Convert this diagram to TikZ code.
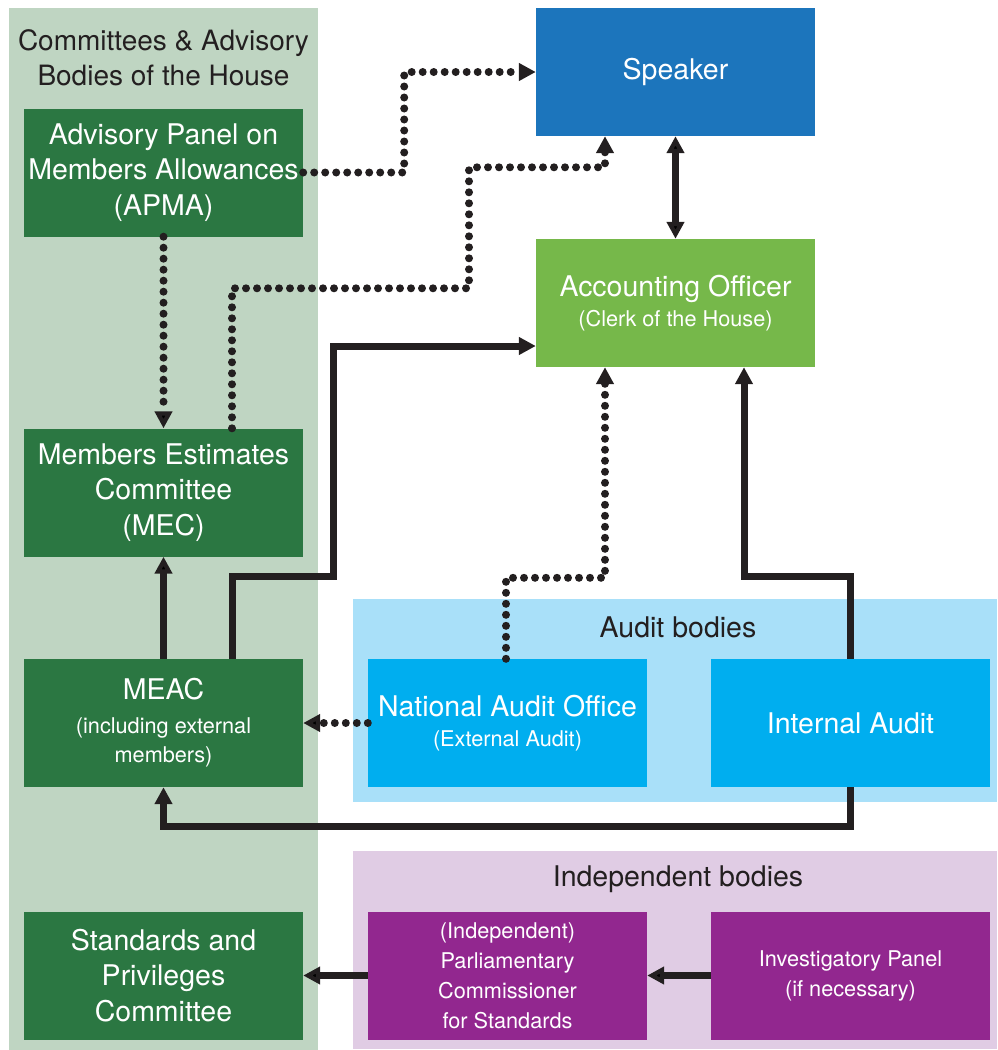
\documentclass[tikz,border=0pt]{standalone}
\usepackage{fontspec}
\setmainfont{TeX Gyre Heros}
\usetikzlibrary{arrows.meta,positioning}

\definecolor{housebg}{HTML}{BFD5C2}
\definecolor{housebox}{HTML}{2B7742}
\definecolor{speakerblue}{HTML}{1C75BC}
\definecolor{officergreen}{HTML}{76B84A}
\definecolor{auditbg}{HTML}{A9E0F9}
\definecolor{auditbox}{HTML}{00AEEF}
\definecolor{indepbg}{HTML}{E0CCE4}
\definecolor{indepbox}{HTML}{92278F}
\definecolor{linkcol}{HTML}{231F20}
\newcommand\smallfnt{\fontsize{21.7}{30}\selectfont}

\begin{document}
\begin{tikzpicture}[x=1pt,y=-1pt,on grid,font=\fontsize{28.5}{35.5}\selectfont,>={Triangle[length=17pt,width=17pt]}]
	\tikzstyle{box}=[rectangle,minimum width=279pt,minimum height=128pt,inner sep=0pt,align=center,text=white]
	\tikzstyle{solidlink}=[draw=linkcol,line width=7pt,->]
	\tikzstyle{dotlink}=[draw=linkcol,line width=8pt,line cap=round,dash pattern=on 0pt off 11pt,->]
	
	\useasboundingbox (0,0) rectangle (997,1050);
	% background panels
	\fill[housebg] (9,8) rectangle (318,1050);
	\fill[auditbg] (353,599) rectangle (997,802);
	\fill[indepbg] (353,851) rectangle (997,1049);
	\node[text=linkcol,align=center,font=\fontsize{28}{35}\selectfont] (HOUSE) at (163.5,58) {Committees \& Advisory\\Bodies of the House};
	\node[text=linkcol] (AUDIT) at (678,627) {Audit bodies};
	\node[text=linkcol] (INDEP) at (678,879) {Independent bodies};
	
	\node[box,fill=housebox]                   (APMA) at (163.5,172.5)     {Advisory Panel on\\Members Allowances\\(APMA)};
	\node[box,fill=housebox]                   (MEC)  [below=320pt of APMA]  {Members Estimates\\Committee\\(MEC)};
	\node[box,fill=housebox]                   (MEAC) [below=230.5pt of MEC] {MEAC\\[-2pt]\smallfnt (including external\\[-6pt]\smallfnt members)};
	\node[box,fill=housebox]                   (SPC)  [below=252.5pt of MEAC] {Standards and\\Privileges\\Committee};
	\node[box,fill=speakerblue]                (SPK)  at (675.5,72)        {Speaker};
	\node[box,fill=officergreen]               (AO)   [below=231pt of SPK]  {Accounting Officer\\[-5pt]\smallfnt (Clerk of the House)};
	\node[box,fill=auditbox]                   (NAO)  at (507.5,723)       {National Audit Office\\[-6pt]\smallfnt (External Audit)};
	\node[box,fill=auditbox]                   (IA)   [right=343pt of NAO]  {Internal Audit};
	\node[box,fill=indepbox,font=\smallfnt]    (PCS)  [below=252.5pt of NAO] {(Independent)\\Parliamentary\\Commissioner\\for Standards};
	\node[box,fill=indepbox,font=\smallfnt]    (IP)   [right=343pt of PCS]  {Investigatory Panel\\(if necessary)};
	
	% dotted links
	\draw[dotlink] (APMA.east) -- ++(101,0) |- (SPK.west);
	\draw[dotlink] ([xshift=68.5pt]MEC.north) -- ++(0,-140) -| ++(237,-121) -| ([xshift=-70.5pt]SPK.south);
	\draw[dotlink] ([xshift=-1.5pt]NAO.north) -- ++(0,-81) -| ([xshift=-70.5pt]AO.south);
	\path[dotlink]
	(APMA) edge (MEC)
	(NAO) edge (MEAC);
	
	% solid links
	\draw[solidlink] ([xshift=68.5pt]MEAC.north) -- ++(0,-82) -- ++(101,0) |- ([yshift=-43pt]AO.west);
	\draw[solidlink] (IA.north) -- ++(0,-82) -| ([xshift=68.5pt]AO.south);
	\draw[solidlink] (IA.south) -- ++(0,39) -| (MEAC.south);
	\path[solidlink]
	(SPK) edge [<->] (AO)
	(MEAC) edge (MEC)
	(PCS) edge (SPC)
	(IP) edge (PCS);
\end{tikzpicture}
\end{document}
